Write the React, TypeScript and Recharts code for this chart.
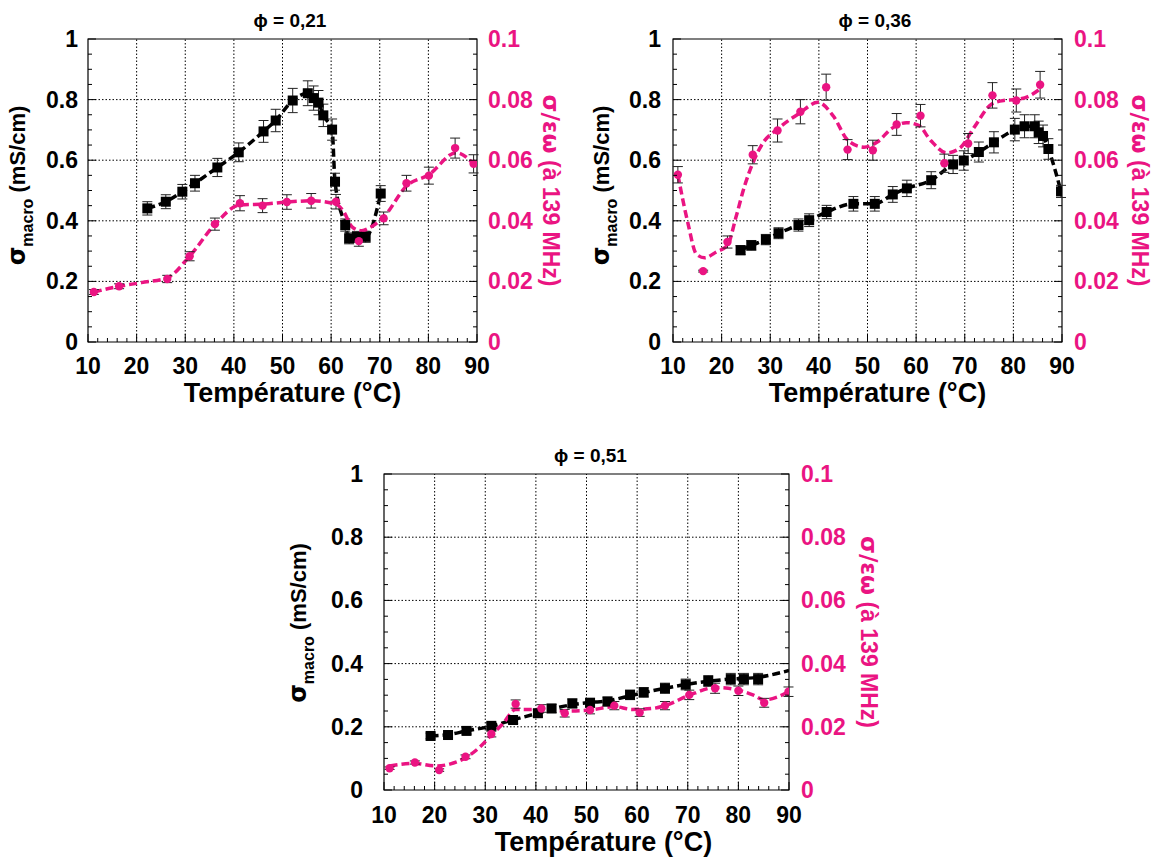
import React from "react";
import {
  ComposedChart,
  XAxis,
  YAxis,
  Line,
  Scatter,
  ErrorBar,
  ReferenceLine,
  ReferenceArea,
} from "recharts";

const PINK = "#ea1482";
const FONT = "'Liberation Sans', Arial, Helvetica, sans-serif";
const GREEK = "'DejaVu Sans', 'Liberation Sans', sans-serif";

// axis ticks (minor + labelled majors)
const tempTicks = [
  10, 12, 14, 16, 18, 20, 22, 24, 26, 28, 30, 32, 34, 36, 38, 40, 42, 44, 46, 48, 50,
  52, 54, 56, 58, 60, 62, 64, 66, 68, 70, 72, 74, 76, 78, 80, 82, 84, 86, 88, 90,
];
const tempLabels = [10, 20, 30, 40, 50, 60, 70, 80, 90];
const condTicks = [
  0, 0.05, 0.1, 0.15, 0.2, 0.25, 0.3, 0.35, 0.4, 0.45, 0.5, 0.55, 0.6, 0.65, 0.7, 0.75,
  0.8, 0.85, 0.9, 0.95, 1,
];
const condLabels = [0, 0.2, 0.4, 0.6, 0.8, 1];
const ratioTicks = [
  0, 0.005, 0.01, 0.015, 0.02, 0.025, 0.03, 0.035, 0.04, 0.045, 0.05, 0.055, 0.06, 0.065,
  0.07, 0.075, 0.08, 0.085, 0.09, 0.095, 0.1,
];
const ratioLabels = [0, 0.02, 0.04, 0.06, 0.08, 0.1];

type Pt = { t: number; v: number; e?: number };

// phi = 0,21
const phi21Sigma: Pt[] = [
  { t: 22.2, v: 0.441, e: 0.022 },
  { t: 26.0, v: 0.463, e: 0.023 },
  { t: 29.4, v: 0.496, e: 0.024 },
  { t: 32.0, v: 0.524, e: 0.026 },
  { t: 36.6, v: 0.576, e: 0.03 },
  { t: 41.0, v: 0.626, e: 0.031 },
  { t: 46.1, v: 0.695, e: 0.036 },
  { t: 48.6, v: 0.731, e: 0.037 },
  { t: 52.1, v: 0.797, e: 0.04 },
  { t: 55.2, v: 0.821, e: 0.041 },
  { t: 56.4, v: 0.805, e: 0.04 },
  { t: 57.4, v: 0.79, e: 0.04 },
  { t: 58.4, v: 0.748, e: 0.037 },
  { t: 60.2, v: 0.701, e: 0.035 },
  { t: 60.8, v: 0.529, e: 0.028 },
  { t: 62.9, v: 0.386, e: 0.02 },
  { t: 63.7, v: 0.342, e: 0.018 },
  { t: 65.3, v: 0.347, e: 0.018 },
  { t: 67.1, v: 0.347, e: 0.018 },
  { t: 70.2, v: 0.49, e: 0.026 },
];
const phi21Ratio: Pt[] = [
  { t: 11.2, v: 0.0165, e: 0.0008 },
  { t: 16.4, v: 0.0184, e: 0.0008 },
  { t: 26.3, v: 0.0208, e: 0.0012 },
  { t: 30.9, v: 0.0283, e: 0.0015 },
  { t: 36.1, v: 0.0389, e: 0.002 },
  { t: 41.25, v: 0.0458, e: 0.0025 },
  { t: 45.9, v: 0.045, e: 0.0023 },
  { t: 50.9, v: 0.0462, e: 0.0024 },
  { t: 55.9, v: 0.0466, e: 0.0024 },
  { t: 61.0, v: 0.0463, e: 0.0024 },
  { t: 65.7, v: 0.0333, e: 0.0017 },
  { t: 70.8, v: 0.0408, e: 0.0021 },
  { t: 75.5, v: 0.0524, e: 0.0026 },
  { t: 80.1, v: 0.0549, e: 0.0028 },
  { t: 85.5, v: 0.064, e: 0.0033 },
  { t: 89.3, v: 0.0588, e: 0.003 },
];
const phi21RatioFit: Pt[] = [
  { t: 11.2, v: 0.0165 },
  { t: 16.4, v: 0.0184 },
  { t: 21, v: 0.0196 },
  { t: 26.3, v: 0.0212 },
  { t: 31, v: 0.0285 },
  { t: 36.1, v: 0.0388 },
  { t: 41.2, v: 0.0452 },
  { t: 46, v: 0.0455 },
  { t: 51, v: 0.0462 },
  { t: 56, v: 0.0466 },
  { t: 61, v: 0.0455 },
  { t: 62.6, v: 0.043 },
  { t: 64.3, v: 0.038 },
  { t: 66.3, v: 0.0367 },
  { t: 68, v: 0.0378 },
  { t: 70.8, v: 0.0412 },
  { t: 75.5, v: 0.0515 },
  { t: 80.1, v: 0.0552 },
  { t: 85.7, v: 0.0625 },
  { t: 89.3, v: 0.0588 },
];

// phi = 0,36
const phi36Sigma: Pt[] = [
  { t: 23.9, v: 0.303, e: 0.015 },
  { t: 26.1, v: 0.319, e: 0.016 },
  { t: 29.1, v: 0.338, e: 0.017 },
  { t: 31.7, v: 0.359, e: 0.018 },
  { t: 35.8, v: 0.386, e: 0.02 },
  { t: 38.0, v: 0.402, e: 0.021 },
  { t: 41.6, v: 0.429, e: 0.022 },
  { t: 47.1, v: 0.456, e: 0.024 },
  { t: 51.5, v: 0.456, e: 0.024 },
  { t: 55.2, v: 0.487, e: 0.026 },
  { t: 58.1, v: 0.507, e: 0.027 },
  { t: 63.1, v: 0.534, e: 0.028 },
  { t: 67.6, v: 0.586, e: 0.03 },
  { t: 69.8, v: 0.599, e: 0.032 },
  { t: 72.9, v: 0.627, e: 0.033 },
  { t: 76.0, v: 0.659, e: 0.035 },
  { t: 80.3, v: 0.701, e: 0.037 },
  { t: 82.3, v: 0.712, e: 0.038 },
  { t: 84.4, v: 0.712, e: 0.038 },
  { t: 85.2, v: 0.692, e: 0.037 },
  { t: 86.1, v: 0.68, e: 0.036 },
  { t: 87.2, v: 0.637, e: 0.034 },
  { t: 89.8, v: 0.497, e: 0.02 },
];
const phi36Ratio: Pt[] = [
  { t: 11.0, v: 0.0552, e: 0.0027 },
  { t: 16.2, v: 0.0234, e: 0.0003 },
  { t: 21.2, v: 0.033, e: 0.002 },
  { t: 26.4, v: 0.0618, e: 0.003 },
  { t: 31.5, v: 0.0698, e: 0.0038 },
  { t: 36.2, v: 0.076, e: 0.004 },
  { t: 41.5, v: 0.0841, e: 0.0043 },
  { t: 45.9, v: 0.0635, e: 0.0033 },
  { t: 51.1, v: 0.0633, e: 0.0033 },
  { t: 56.0, v: 0.0718, e: 0.0036 },
  { t: 60.9, v: 0.0747, e: 0.0037 },
  { t: 65.8, v: 0.059, e: 0.003 },
  { t: 70.7, v: 0.0655, e: 0.0033 },
  { t: 75.7, v: 0.0814, e: 0.0042 },
  { t: 80.6, v: 0.0797, e: 0.0038 },
  { t: 85.5, v: 0.0849, e: 0.0044 },
];
const phi36RatioFit: Pt[] = [
  { t: 11.0, v: 0.0552 },
  { t: 13.1, v: 0.039 },
  { t: 14.8, v: 0.029 },
  { t: 16.5, v: 0.0278 },
  { t: 18.9, v: 0.0297 },
  { t: 21.2, v: 0.0319 },
  { t: 23, v: 0.0415 },
  { t: 24.7, v: 0.0514 },
  { t: 26.4, v: 0.059 },
  { t: 28.5, v: 0.0657 },
  { t: 31.5, v: 0.0703 },
  { t: 36, v: 0.0755 },
  { t: 39.8, v: 0.0791 },
  { t: 43, v: 0.0745 },
  { t: 46, v: 0.0665 },
  { t: 49.3, v: 0.0643 },
  { t: 52, v: 0.066 },
  { t: 55, v: 0.0705 },
  { t: 58, v: 0.0724 },
  { t: 60.5, v: 0.0715 },
  { t: 63, v: 0.0665 },
  { t: 66.3, v: 0.0624 },
  { t: 69, v: 0.064 },
  { t: 72, v: 0.071 },
  { t: 75.5, v: 0.0785 },
  { t: 78, v: 0.0797 },
  { t: 80.5, v: 0.08 },
  { t: 83, v: 0.081 },
  { t: 85.5, v: 0.0835 },
];

// phi = 0,51
const phi51Sigma: Pt[] = [
  { t: 19.2, v: 0.171, e: 0.009 },
  { t: 22.65, v: 0.174, e: 0.009 },
  { t: 26.3, v: 0.187, e: 0.01 },
  { t: 31.2, v: 0.203, e: 0.01 },
  { t: 35.5, v: 0.2215, e: 0.011 },
  { t: 40.4, v: 0.243, e: 0.012 },
  { t: 43.1, v: 0.258, e: 0.013 },
  { t: 47.2, v: 0.274, e: 0.014 },
  { t: 50.7, v: 0.276, e: 0.014 },
  { t: 54.15, v: 0.28, e: 0.014 },
  { t: 58.6, v: 0.301, e: 0.015 },
  { t: 61.3, v: 0.309, e: 0.015 },
  { t: 65.5, v: 0.322, e: 0.016 },
  { t: 69.6, v: 0.334, e: 0.017 },
  { t: 74.05, v: 0.345, e: 0.017 },
  { t: 78.5, v: 0.351, e: 0.018 },
  { t: 81.1, v: 0.351, e: 0.018 },
  { t: 83.9, v: 0.351, e: 0.018 },
];
const phi51SigmaFit: Pt[] = [
  { t: 19.2, v: 0.171 },
  { t: 22.65, v: 0.175 },
  { t: 26.3, v: 0.187 },
  { t: 31.2, v: 0.202 },
  { t: 35.5, v: 0.222 },
  { t: 40.4, v: 0.243 },
  { t: 43.1, v: 0.256 },
  { t: 47.2, v: 0.27 },
  { t: 50.7, v: 0.277 },
  { t: 54.15, v: 0.282 },
  { t: 58.6, v: 0.298 },
  { t: 61.3, v: 0.308 },
  { t: 65.5, v: 0.322 },
  { t: 69.6, v: 0.334 },
  { t: 74.05, v: 0.344 },
  { t: 78.5, v: 0.351 },
  { t: 81.1, v: 0.353 },
  { t: 83.9, v: 0.357 },
  { t: 90, v: 0.378 },
];
const phi51Ratio: Pt[] = [
  { t: 11.1, v: 0.0069, e: 0.0004 },
  { t: 16.1, v: 0.0087, e: 0.0005 },
  { t: 20.9, v: 0.0063, e: 0.0004 },
  { t: 26.1, v: 0.0105, e: 0.0006 },
  { t: 31.2, v: 0.0177, e: 0.0009 },
  { t: 36.0, v: 0.0272, e: 0.0013 },
  { t: 41.1, v: 0.0258, e: 0.0012 },
  { t: 45.7, v: 0.0243, e: 0.0012 },
  { t: 50.7, v: 0.0253, e: 0.0012 },
  { t: 55.5, v: 0.0267, e: 0.0013 },
  { t: 60.5, v: 0.0245, e: 0.0012 },
  { t: 65.5, v: 0.0267, e: 0.0013 },
  { t: 70.3, v: 0.0301, e: 0.0015 },
  { t: 75.4, v: 0.0322, e: 0.0016 },
  { t: 80.0, v: 0.0314, e: 0.0015 },
  { t: 85.1, v: 0.0276, e: 0.0014 },
  { t: 89.9, v: 0.0311, e: 0.0015 },
];
const phi51RatioFit: Pt[] = [
  { t: 11.1, v: 0.0076 },
  { t: 16.1, v: 0.0084 },
  { t: 20.3, v: 0.0076 },
  { t: 23, v: 0.0082 },
  { t: 26.1, v: 0.0102 },
  { t: 29, v: 0.0137 },
  { t: 31.2, v: 0.0174 },
  { t: 33.5, v: 0.021 },
  { t: 36, v: 0.0255 },
  { t: 41.1, v: 0.0255 },
  { t: 45.7, v: 0.025 },
  { t: 50.7, v: 0.0253 },
  { t: 55.5, v: 0.0264 },
  { t: 59, v: 0.0255 },
  { t: 63, v: 0.0258 },
  { t: 65.5, v: 0.0267 },
  { t: 70.3, v: 0.03 },
  { t: 75.4, v: 0.0324 },
  { t: 78, v: 0.0322 },
  { t: 80, v: 0.0316 },
  { t: 83, v: 0.03 },
  { t: 85.1, v: 0.0285 },
  { t: 87.5, v: 0.0293 },
  { t: 89.9, v: 0.0311 },
];

const isMajor = (v: number, list: number[]) => list.some((m) => Math.abs(m - v) < 1e-9);

const txt = { fontFamily: FONT, fontWeight: 700 } as const;
const TICK_FS = 23;

function BottomTick({ x, y, payload, base }: any) {
  const major = isMajor(payload.value, tempLabels);
  return (
    <g>
      <line x1={x} x2={x} y1={y} y2={y - (major ? 8 : 4)} stroke="#000" />
      {major && (
        <text x={x} y={y + base} textAnchor="middle" fontSize={TICK_FS} fill="#000" {...txt}>
          {String(payload.value)}
        </text>
      )}
    </g>
  );
}

function LeftTick({ x, y, payload, gap }: any) {
  const major = isMajor(payload.value, condLabels);
  return (
    <g>
      <line x1={x} x2={x + (major ? 8 : 4)} y1={y} y2={y} stroke="#000" />
      {major && (
        <text x={x - gap} y={y + 8} textAnchor="end" fontSize={TICK_FS} fill="#000" {...txt}>
          {String(payload.value)}
        </text>
      )}
    </g>
  );
}

function RightTick({ x, y, payload, gap }: any) {
  const major = isMajor(payload.value, ratioLabels);
  return (
    <g>
      <line x1={x} x2={x - (major ? 8 : 4)} y1={y} y2={y} stroke="#000" />
      {major && (
        <text x={x + gap} y={y + 8} textAnchor="start" fontSize={TICK_FS} fill={PINK} {...txt}>
          {String(payload.value)}
        </text>
      )}
    </g>
  );
}

// axis titles are placed relative to the plot box (bx/by given by Panel)
function SigmaTitle({ bx, cy }: any) {
  return (
    <text transform={`translate(${bx},${cy}) rotate(-90)`} textAnchor="middle" fontSize={22} fill="#000" {...txt}>
      <tspan fontFamily={GREEK} fontSize={24}>σ</tspan>
      <tspan fontSize={16} dy={8}>
        macro
      </tspan>
      <tspan dy={-8}> (mS/cm)</tspan>
    </text>
  );
}

function RatioTitle({ bx, cy }: any) {
  return (
    <text transform={`translate(${bx},${cy}) rotate(90)`} textAnchor="middle" fontSize={23} fill={PINK} {...txt}>
      <tspan fontFamily={GREEK}>σ/εω</tspan> (à 139 MHz)
    </text>
  );
}

function TempTitle({ cx, by }: any) {
  return (
    <text x={cx} y={by} textAnchor="middle" fontSize={27} fill="#000" {...txt}>
      Température (°C)
    </text>
  );
}

function PanelTitle({ cx, by, text }: any) {
  return (
    <text x={cx} y={by} textAnchor="middle" fontSize={19} fill="#000" {...txt}>
      {text}
    </text>
  );
}

const squareShape = (p: any) => <rect x={p.cx - 5} y={p.cy - 5} width={10} height={10} fill="#000" />;
const circleShape = (p: any) => <circle cx={p.cx} cy={p.cy} r={4.2} fill={PINK} />;

type PanelProps = {
  left: number;
  top: number;
  w: number;
  h: number;
  lw: number;
  rw: number;
  title: string;
  sigma: Pt[];
  sigmaFit: Pt[];
  ratio: Pt[];
  ratioFit: Pt[];
  gapL: number;
  gapR: number;
  sigmaOff: number;
  sigmaDy: number;
  ratioOff: number;
  xBase: number;
  xTitleBase: number;
  xTitleDx: number;
  titleDx: number;
};

const TOP = 38;
const BOT = 68;

function Panel(p: PanelProps) {
  const width = p.lw + p.w + p.rw;
  const height = TOP + p.h + BOT;
  const plotL = p.lw;
  const plotR = p.lw + p.w;
  const midX = p.lw + p.w / 2;
  const midY = TOP + p.h / 2;
  const plotB = TOP + p.h;
  return (
    <div style={{ position: "absolute", left: p.left - p.lw, top: p.top - TOP, width, height }}>
      <ComposedChart width={width} height={height} margin={{ top: TOP, right: 0, bottom: 0, left: 0 }}>
        <XAxis
          xAxisId="x"
          dataKey="t"
          type="number"
          domain={[10, 90]}
          allowDataOverflow
          ticks={tempTicks}
          interval={0}
          height={BOT}
          axisLine={false}
          tickLine={false}
          tickSize={0}
          tickMargin={0}
          tick={(t: any) => <BottomTick {...t} base={p.xBase} />}
          label={<TempTitle cx={midX + p.xTitleDx} by={plotB + p.xTitleBase} />}
        />
        <YAxis
          yAxisId="l"
          orientation="left"
          type="number"
          domain={[0, 1]}
          allowDataOverflow
          ticks={condTicks}
          interval={0}
          width={p.lw}
          axisLine={false}
          tickLine={false}
          tickSize={0}
          tickMargin={0}
          tick={(t: any) => <LeftTick {...t} gap={p.gapL} />}
          label={<SigmaTitle bx={plotL - p.sigmaOff} cy={midY + p.sigmaDy} />}
        />
        <YAxis
          yAxisId="r"
          orientation="right"
          type="number"
          domain={[0, 0.1]}
          allowDataOverflow
          ticks={ratioTicks}
          interval={0}
          width={p.rw}
          axisLine={false}
          tickLine={false}
          tickSize={0}
          tickMargin={0}
          tick={(t: any) => <RightTick {...t} gap={p.gapR} />}
          label={<RatioTitle bx={plotR + p.ratioOff} cy={midY} />}
        />
        {tempLabels.slice(1, -1).map((v) => (
          <ReferenceLine key={`vx${v}`} xAxisId="x" yAxisId="l" x={v} stroke="#000" strokeWidth={1} strokeDasharray="1.5 2" />
        ))}
        {condLabels.slice(1, -1).map((v) => (
          <ReferenceLine key={`hy${v}`} xAxisId="x" yAxisId="l" y={v} stroke="#000" strokeWidth={1} strokeDasharray="1.5 2" />
        ))}
        <Line
          xAxisId="x"
          yAxisId="l"
          data={p.sigmaFit}
          dataKey="v"
          type="monotone"
          stroke="#000"
          strokeWidth={3.5}
          strokeDasharray="8 4"
          dot={false}
          activeDot={false}
          isAnimationActive={false}
        />
        <Scatter xAxisId="x" yAxisId="l" data={p.sigma} dataKey="v" shape={squareShape} isAnimationActive={false}>
          <ErrorBar dataKey="e" direction="y" width={5} stroke="#222" strokeWidth={1} />
        </Scatter>
        <Line
          xAxisId="x"
          yAxisId="r"
          data={p.ratioFit}
          dataKey="v"
          type="monotone"
          stroke={PINK}
          strokeWidth={3.5}
          strokeDasharray="8 4"
          dot={false}
          activeDot={false}
          isAnimationActive={false}
        />
        <Scatter xAxisId="x" yAxisId="r" data={p.ratio} dataKey="v" shape={circleShape} isAnimationActive={false}>
          <ErrorBar dataKey="e" direction="y" width={5} stroke="#222" strokeWidth={1} />
        </Scatter>
        <ReferenceArea
          xAxisId="x"
          yAxisId="l"
          x1={10}
          x2={90}
          y1={0}
          y2={1}
          fill="none"
          stroke="#000"
          strokeWidth={1.2}
          label={<PanelTitle cx={midX + p.titleDx} by={TOP - 12} text={p.title} />}
        />
      </ComposedChart>
    </div>
  );
}

export default function App() {
  return (
    <div style={{ position: "absolute", left: 0, top: 0, width: 1159, height: 859, background: "#fff" }}>
      <Panel
        left={88}
        top={39}
        w={389}
        h={303}
        lw={88}
        rw={95}
        title="ϕ = 0,21"
        sigma={phi21Sigma}
        sigmaFit={phi21Sigma}
        ratio={phi21Ratio}
        ratioFit={phi21RatioFit}
        gapL={10}
        gapR={11}
        sigmaOff={63}
        sigmaDy={-5}
        ratioOff={66}
        xBase={32}
        xTitleBase={60}
        xTitleDx={10}
        titleDx={7.5}
      />
      <Panel
        left={673}
        top={39}
        w={389}
        h={303}
        lw={95}
        rw={95}
        title="ϕ = 0,36"
        sigma={phi36Sigma}
        sigmaFit={phi36Sigma}
        ratio={phi36Ratio}
        ratioFit={phi36RatioFit}
        gapL={12}
        gapR={12}
        sigmaOff={64}
        sigmaDy={-5}
        ratioOff={70}
        xBase={32}
        xTitleBase={60}
        xTitleDx={10}
        titleDx={7.5}
      />
      <Panel
        left={384}
        top={474}
        w={405}
        h={316}
        lw={100}
        rw={100}
        title="ϕ = 0,51"
        sigma={phi51Sigma}
        sigmaFit={phi51SigmaFit}
        ratio={phi51Ratio}
        ratioFit={phi51RatioFit}
        gapL={21}
        gapR={12}
        sigmaOff={78}
        sigmaDy={-9}
        ratioOff={72}
        xBase={33}
        xTitleBase={61}
        xTitleDx={17}
        titleDx={4}
      />
    </div>
  );
}
